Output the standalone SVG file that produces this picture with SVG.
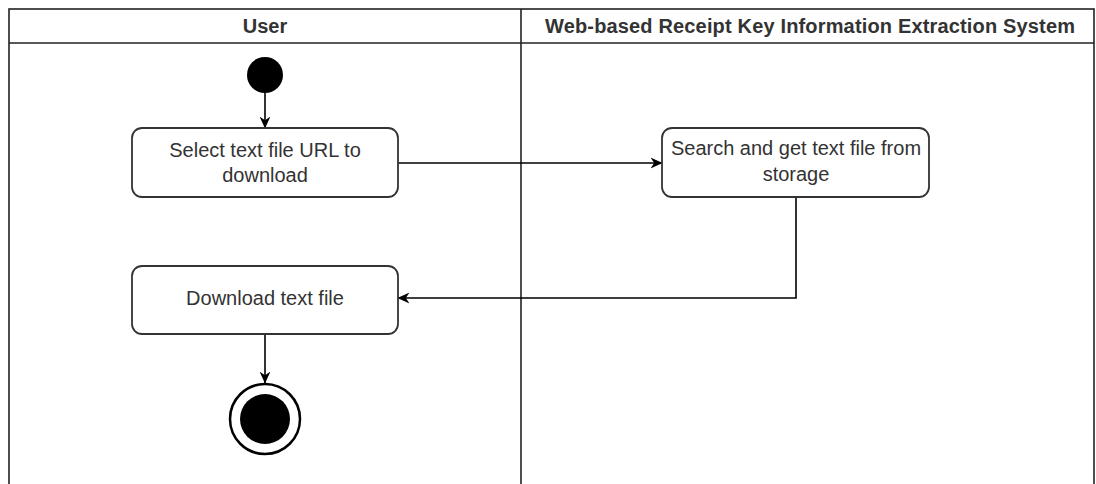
<svg xmlns="http://www.w3.org/2000/svg" width="1096" height="484" viewBox="0 0 1096 484">
  <style>
    .lane { fill: none; stroke: #222; stroke-width: 1.6; }
    .head { font-family: "Liberation Sans", Arial, sans-serif; font-size: 20px; font-weight: bold; fill: #333; text-anchor: middle; }
    .act rect { fill: #fff; stroke: #333; stroke-width: 1.8; }
    .act text { font-family: "Liberation Sans", Arial, sans-serif; font-size: 20px; fill: #333; text-anchor: middle; }
    .edge { fill: none; stroke: #000; stroke-width: 1.6; }
  </style>
  <defs>
    <marker id="arrow" viewBox="0 0 10 10" refX="9.5" refY="5" markerWidth="12" markerHeight="12" markerUnits="userSpaceOnUse" orient="auto">
      <path d="M0,0.5 L10,5 L0,9.5 L3,5 Z" fill="#000"/>
    </marker>
  </defs>

  <rect width="1096" height="484" fill="#fff"/>

  <!-- swimlane frame -->
  <g id="lanes">
    <rect class="lane" x="9" y="9" width="1085" height="490"/>
    <line class="lane" x1="9" y1="43" x2="1094" y2="43"/>
    <line class="lane" x1="521" y1="9" x2="521" y2="484"/>
    <text class="head" x="265" y="33">User</text>
    <text class="head" x="810" y="33" textLength="530" lengthAdjust="spacing">Web-based Receipt Key Information Extraction System</text>
  </g>

  <!-- connectors -->
  <g id="connectors">
    <line class="edge" x1="265" y1="93" x2="265" y2="128" marker-end="url(#arrow)"/>
    <line class="edge" x1="398" y1="163" x2="662" y2="163" marker-end="url(#arrow)"/>
    <polyline class="edge" points="796,197 796,298 398,298" marker-end="url(#arrow)"/>
    <line class="edge" x1="265" y1="334" x2="265" y2="383" marker-end="url(#arrow)"/>
  </g>

  <g id="start">
    <circle cx="265" cy="75" r="18" fill="#000"/>
  </g>

  <g id="select-url" class="act">
    <rect x="132" y="128" width="266" height="69" rx="10"/>
    <text x="265" y="157">Select text file URL to</text>
    <text x="265" y="182">download</text>
  </g>

  <g id="search-file" class="act">
    <rect x="662" y="128" width="267" height="69" rx="10"/>
    <text x="796" y="155">Search and get text file from</text>
    <text x="796" y="181">storage</text>
  </g>

  <g id="download-file" class="act">
    <rect x="132" y="266" width="266" height="68" rx="10"/>
    <text x="265" y="305">Download text file</text>
  </g>

  <g id="end">
    <circle cx="265" cy="419" r="35" fill="#fff" stroke="#000" stroke-width="2.5"/>
    <circle cx="265" cy="419" r="25" fill="#000"/>
  </g>
</svg>
